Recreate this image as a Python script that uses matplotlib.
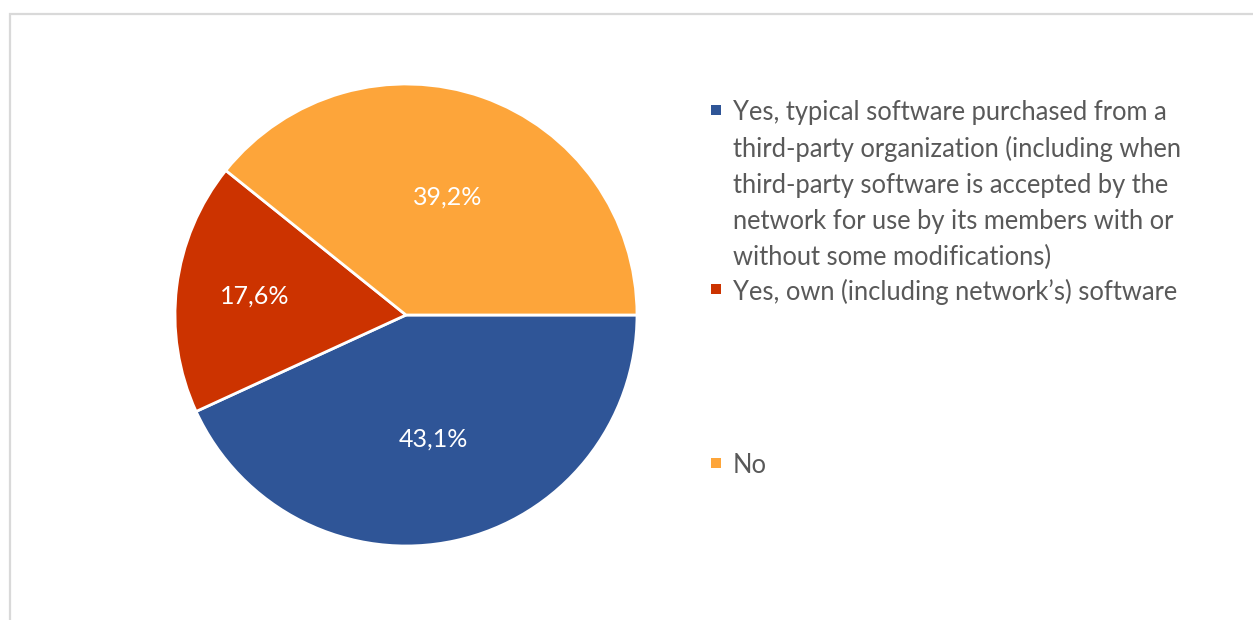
import matplotlib
matplotlib.use("Agg")
import matplotlib.pyplot as plt
from matplotlib.patches import Rectangle
import numpy as np

# Survey answers: does the network use software for its members?
categories = [
    "Yes, typical software purchased from a\nthird-party organization (including when\nthird-party software is accepted by the\nnetwork for use by its members with or\nwithout some modifications)",
    "Yes, own (including network\u2019s) software",
    "No",
]
shares = [43.1, 17.6, 39.2]
colors = ["#2F5597", "#CC3300", "#FDA53A"]
label_radius = [0.55, 0.66, 0.54]

plt.rcParams["font.family"] = ["Lato", "DejaVu Sans"]

W, H = 1253, 620
fig = plt.figure(figsize=(W / 100, H / 100), dpi=100)
fig.patch.set_facecolor("white")

# light frame around the chart area
fig.patches.append(Rectangle((10 / W, -0.05), 1.05, (620 - 14) / H + 0.05,
                             transform=fig.transFigure, fill=False,
                             edgecolor="#D9D9D9", linewidth=1.6))

cx, cy, r = 406, 315, 231
ax = fig.add_axes([(cx - r) / W, (H - cy - r) / H, 2 * r / W, 2 * r / H])
wedges, _ = ax.pie(shares, colors=colors, startangle=0, counterclock=False,
                   radius=1.0,
                   wedgeprops=dict(edgecolor="white", linewidth=2.0))
ax.set_xlim(-1, 1)
ax.set_ylim(-1, 1)
ax.set_aspect("equal")
ax.axis("off")

for w, v, rr in zip(wedges, shares, label_radius):
    mid = np.deg2rad((w.theta1 + w.theta2) / 2)
    ax.text(rr * np.cos(mid), rr * np.sin(mid), f"{v:.1f}%".replace(".", ","),
            ha="center", va="center", color="white", fontsize=18)

# legend: square swatch aligned with the first line of each entry
legend_y = [110, 289, 463]
line_step = 36.3
for lab, col, y in zip(categories, colors, legend_y):
    fig.patches.append(Rectangle(((716 - 5) / W, (H - y - 5) / H), 10 / W, 10 / H,
                                 transform=fig.transFigure, facecolor=col,
                                 edgecolor="none"))
    for i, line in enumerate(lab.split("\n")):
        fig.text(733 / W, (H - y - i * line_step) / H, line, ha="left",
                 va="center_baseline", color="#595959", fontsize=18.4)

fig.savefig("out.png", dpi=100)
